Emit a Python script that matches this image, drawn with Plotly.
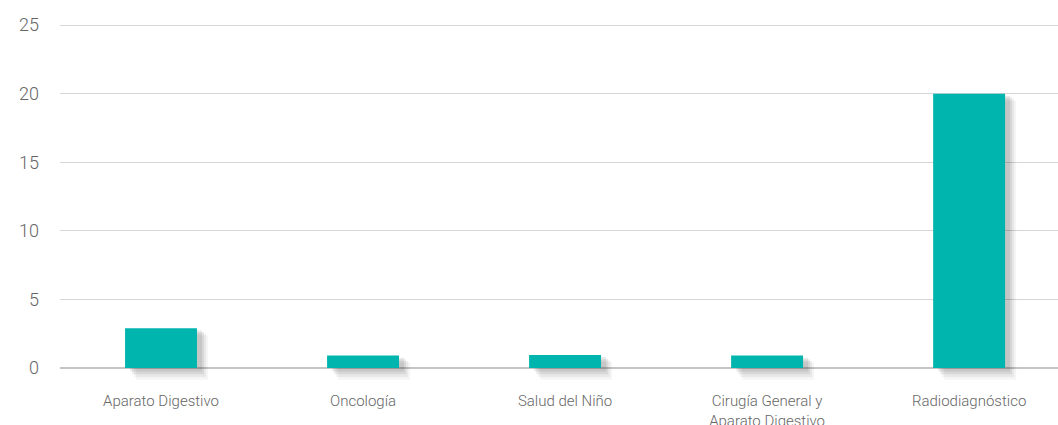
import plotly.graph_objects as go

categories = ["Aparato Digestivo", "Oncología", "Salud del Niño",
              "Cirugía General y<br>Aparato Digestivo", "Radiodiagnóstico"]
values = [2.9, 0.9, 0.95, 0.9, 20]
y_ticks = [0, 5, 10, 15, 20, 25]

BAR_COLOR = "#00b5ad"
bar_w = 0.356

fig = go.Figure()

# soft drop shadow layers (same data, offset down/right)
for dx, dy, alpha in [(0.055, 0.85, 0.04), (0.045, 0.65, 0.05), (0.035, 0.45, 0.07), (0.025, 0.25, 0.08)]:
    fig.add_trace(go.Bar(
        x=categories, y=[v + dy * 0.4 for v in values], base=-dy,
        width=bar_w, offset=-bar_w / 2 + dx,
        marker=dict(color=f"rgba(0,0,0,{alpha})", line=dict(width=0)),
        hoverinfo="skip", showlegend=False,
    ))

fig.add_trace(go.Bar(
    x=categories, y=values, width=bar_w, offset=-bar_w / 2,
    marker=dict(color=BAR_COLOR, line=dict(width=0)),
    showlegend=False,
))

fig.update_layout(
    width=1058, height=425,
    margin=dict(l=60, r=0, t=23, b=44),
    paper_bgcolor="white", plot_bgcolor="white",
    barmode="overlay",
    font=dict(family="Roboto", color="#666666"),
    xaxis=dict(
        range=[-0.5, 4.44], showgrid=False, showline=False, zeroline=False,
        tickfont=dict(size=15, color="#666666", family="Roboto", weight=300),
        ticklabelstandoff=9, fixedrange=True, automargin=False,
    ),
    yaxis=dict(
        range=[-0.95, 25.15], tickvals=y_ticks, ticktext=[str(t) for t in y_ticks],
        showgrid=True, gridcolor="#d6d6d6", gridwidth=1,
        zeroline=True, zerolinecolor="#c4c4c4", zerolinewidth=1.5,
        showline=False, automargin=False, fixedrange=True,
        tickfont=dict(size=18, color="#666666", family="Roboto", weight=300),
        ticklabelstandoff=20,
    ),
)

fig.write_html("out.html", config={"displayModeBar": False},
               post_script="document.body.style.margin='0';")
